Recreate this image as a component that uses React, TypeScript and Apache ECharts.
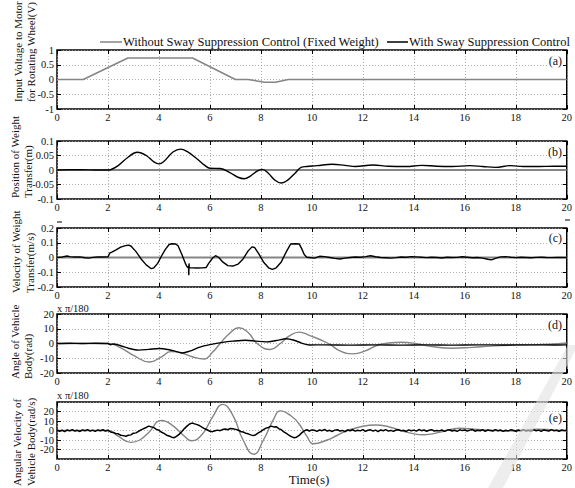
import React, { useEffect, useRef } from "react";
import * as echarts from "echarts";

const FONT = "Liberation Serif";

const xTicks = [0, 2, 4, 6, 8, 10, 12, 14, 16, 18, 20];
const panelNames = ["(a)", "(b)", "(c)", "(d)", "(e)"];
const yMins = [-1, -0.1, -0.2, -20, -30];
const yMaxs = [1, 0.1, 0.2, 20, 30];
const yIntervals = [0.5, 0.05, 0.1, 10, 10];
const legendNames = [
  "Without Sway Suppression Control (Fixed Weight)",
  "With Sway Suppression Control",
];
const yTitles = [
  ["Input Voltage to Motor", "for Rotating Wheel(V)"],
  ["Position of Weight", "Transfer(m)"],
  ["Velocity of Weight", "Transfer(m/s)"],
  ["Angle of Vehicle", "Body(rad)"],
  ["Angular Velocity of", "Vehicle Body(rad/s)"],
];

// (a) input voltage
const aWithout: number[][] = [
  [0, 0], [1.03, 0], [2.78, 0.73], [5.32, 0.73], [7.0, 0], [7.5, 0],
  [8.15, -0.09], [8.57, -0.09], [9.08, 0], [20, 0],
];

// (b) position of weight transfer
const bWithout: number[][] = [[0, 0], [20, 0]];
const bWith: number[][] = [
  [0, 0], [0.5, 0.001], [1, 0.001], [1.5, 0.0], [2.0, 0.0], [2.1, 0.001],
  [2.4, 0.015], [2.8, 0.045], [3.15, 0.061], [3.5, 0.05], [3.8, 0.028],
  [4.0, 0.021], [4.2, 0.03], [4.55, 0.062], [4.85, 0.072], [5.1, 0.064],
  [5.5, 0.038], [5.8, 0.016], [6.0, 0.006], [6.4, 0.005], [6.8, -0.01],
  [7.1, -0.025], [7.35, -0.03], [7.6, -0.02], [7.85, -0.004], [8.05, 0.002],
  [8.3, -0.012], [8.55, -0.035], [8.8, -0.045], [9.05, -0.035], [9.35, -0.01],
  [9.6, 0.01], [9.8, 0.012], [10.2, 0.015], [10.8, 0.02], [11.3, 0.016],
  [11.7, 0.012], [12.4, 0.017], [13.0, 0.013], [13.7, 0.012], [14.3, 0.016],
  [14.9, 0.013], [15.5, 0.012], [16.2, 0.015], [16.7, 0.012], [17.2, 0.009],
  [17.8, 0.015], [18.3, 0.012], [18.9, 0.012], [19.5, 0.013], [20, 0.013],
];

// (c) velocity of weight transfer
const cWithout: number[][] = [[0, 0], [20, 0]];
const cWith: number[][] = [
  [0, 0], [0.2, 0.003], [0.4, 0.01], [0.5, 0.006], [0.7, 0.003], [0.9, 0.004],
  [1.1, -0.002], [1.25, -0.004], [1.4, 0.001], [1.6, 0.003], [1.8, 0.003],
  [2.0, 0.004], [2.07, 0.03], [2.15, 0.036], [2.3, 0.05], [2.5, 0.07],
  [2.65, 0.079], [2.8, 0.084], [2.9, 0.078], [3.1, 0.04], [3.3, -0.01],
  [3.5, -0.05], [3.7, -0.076], [3.8, -0.07], [3.95, -0.04], [4.1, 0.01],
  [4.25, 0.055], [4.4, 0.088], [4.5, 0.093], [4.65, 0.092], [4.75, 0.08],
  [4.9, 0.02], [5.05, -0.045], [5.12, -0.068], [5.16, -0.06], [5.17, -0.12],
  [5.18, -0.04], [5.19, -0.07], [5.3, -0.07], [5.5, -0.071], [5.7, -0.07],
  [5.85, -0.068], [5.95, -0.04], [6.1, -0.005], [6.22, 0.012], [6.35, 0.0],
  [6.5, -0.03], [6.7, -0.055], [6.9, -0.058], [7.1, -0.045], [7.3, -0.01],
  [7.5, 0.045], [7.65, 0.072], [7.75, 0.068], [7.9, 0.03], [8.1, -0.03],
  [8.3, -0.07], [8.45, -0.081], [8.6, -0.07], [8.8, -0.03], [9.0, 0.04],
  [9.17, 0.092], [9.35, 0.093], [9.5, 0.092], [9.6, 0.06], [9.7, 0.02],
  [9.8, 0.002], [9.9, 0.0], [10.1, -0.004], [10.3, 0.008], [10.5, 0.006],
  [10.7, 0.0], [10.9, -0.006], [11.1, -0.01], [11.3, -0.004], [11.5, 0.0],
  [11.7, 0.003], [11.9, 0.002], [12.1, 0.006], [12.3, 0.012], [12.5, 0.005],
  [12.7, 0.0], [12.9, -0.002], [13.1, -0.004], [13.3, -0.001], [13.5, 0.003],
  [13.7, 0.002], [13.9, 0.006], [14.1, 0.004], [14.3, 0.002], [14.5, -0.001],
  [14.7, 0.002], [14.9, 0.0], [15.1, -0.003], [15.3, 0.002], [15.5, 0.0],
  [15.7, 0.001], [15.9, 0.005], [16.1, 0.002], [16.3, -0.002], [16.5, 0.0],
  [16.7, -0.004], [16.9, -0.012], [17.05, -0.016], [17.2, -0.006], [17.4, 0.004],
  [17.6, 0.006], [17.8, 0.002], [18.0, -0.001], [18.2, 0.002], [18.4, 0.0],
  [18.6, -0.002], [18.8, 0.001], [19.0, 0.002], [19.2, 0.0], [19.4, -0.001],
  [19.6, 0.001], [19.8, 0.0], [20, 0.0],
];

// (d) angle of vehicle body (x pi/180)
const dWithout: number[][] = [
  [0, 0], [1, 0], [2, 0], [2.5, -3], [3.0, -8], [3.63, -12.5], [4.1, -9],
  [4.47, -5.5], [4.9, -6.5], [5.3, -9], [5.77, -10.5], [6.1, -6], [6.4, 0],
  [6.75, 6.5], [7.14, 10.7], [7.5, 7.5], [7.85, 0], [8.37, -4.1], [8.76, 0],
  [9.1, 5], [9.5, 7.7], [9.9, 5.5], [10.65, 0], [11.1, -5], [11.62, -7],
  [12.1, -5], [12.6, -1], [13.0, 0.3], [13.5, 0.8], [14.0, 0.2], [14.7, -2],
  [15.5, -3.2], [16.3, -2.6], [17.0, -1.8], [17.8, -1.2], [18.6, -0.9],
  [19.3, -0.5], [20, 0.3],
];
const dWith: number[][] = [
  [0, 0], [0.5, 0.2], [1, 0], [1.5, 0.2], [2, 0], [2.1, -0.8], [2.2, -0.3],
  [2.5, -1.5], [2.8, -3.2], [3.2, -4.5], [3.6, -4.0], [4.0, -3.4], [4.4, -4.2],
  [4.7, -5.5], [4.93, -6.4], [5.2, -5.2], [5.6, -2.5], [6.0, -0.8], [6.5, 0.8],
  [6.9, 1.6], [7.4, 2.2], [7.8, 1.6], [8.2, 1.1], [8.6, 2.0], [9.0, 3.2],
  [9.3, 2.2], [9.6, 0.3], [9.9, -1.0], [10.5, -0.9], [11.5, -1.1], [12.5, -0.9],
  [13.5, -1.1], [14.5, -0.9], [15.5, -1.1], [16.5, -0.9], [17.5, -1.0],
  [18.5, -0.9], [19.5, -1.0], [20, -0.9],
];

// (e) angular velocity of vehicle body (x pi/180)
const eWithout: number[][] = [
  [0, 0], [1, 0], [2, 0], [2.4, -6], [2.9, -12.5], [3.25, -10], [3.6, -2],
  [4.1, 10.5], [4.5, 6], [5.0, -6], [5.28, -10.8], [5.7, -4], [6.1, 14],
  [6.5, 27.5], [6.9, 16], [7.3, -10], [7.72, -25], [8.1, -10], [8.5, 12],
  [8.76, 20.7], [9.2, 15], [9.5, 6.8], [9.8, -6], [10.06, -14], [10.6, -10],
  [11.0, -5], [11.4, 0], [12.0, 4.5], [12.5, 5.8], [13.0, 4], [13.5, 0],
  [14.0, -3.5], [14.4, -4.4], [15.0, -2], [15.8, 2.4], [16.5, 1], [17.2, 0],
  [18.0, -0.5], [18.8, 1.5], [19.5, 0.5], [20, -0.5],
];
const eWithStep = 0.1;
const eWithValues = [
  0.5, -0.8, 0.3, -1.2, 0.6, -0.4, 1.0, -0.6, 0.2, -1.0,
  0.7, -0.3, 0.9, -0.7, 0.4, -0.9, 0.6, -0.2, 0.8, -0.6,
  0.2, -1.5, -2.0, -3.2, -3.5, -5.0, -5.4, -6.0, -5.0, -4.6,
  -2.8, -2.5, -0.8, 0.6, 2.0, 3.2, 4.6, 3.8, 3.0, 1.2,
  0.2, -1.8, -3.0, -5.0, -5.8, -7.0, -7.6, -6.0, -3.8, -1.0,
  2.0, 4.6, 6.8, 7.8, 7.0, 6.2, 5.0, 3.2, 1.8, 0.5,
  -0.8, -1.2, -0.3, 0.4, -0.2, 1.0, 1.6, 0.8, 2.2, 1.8,
  1.2, 0.5, -1.0, -1.6, -2.8, -3.5, -4.6, -5.4, -4.4, -2.6,
  -1.0, 0.8, 2.5, 3.2, 4.6, 3.8, 4.0, 2.0, 0.8, -1.5,
  -3.0, -5.0, -6.5, -7.6, -7.0, -5.2, -2.5, -0.4, 0.8, -0.5,
  0.6,
  0.3, -0.9, 0.5, -0.2, 1.1, -0.6, 0.2, -1.0, 0.4, 0.9,
  -0.5, 0.1, -1.2, 0.6, -0.3, 0.8, -0.7, 0.3, -0.4, 1.0,
  -0.8, 0.2, 0.7, -0.5, 0.4, -1.1, 0.6, -0.2, 0.9, -0.6,
  0.1, -0.9, 0.5, 0.8, -0.4, 0.2, -1.0, 0.7, -0.3, 0.4,
  -0.7, 1.0, -0.2, 0.5, -0.8, 0.3, 0.9, -0.6, 0.1, -0.4,
  0.6, -1.0, 0.3, 0.8, -0.5, 0.2, -0.9, 0.7, -0.1, 0.5,
  -0.6, 0.4, 1.0, -0.7, 0.2, -0.3, 0.8, -0.9, 0.5, 0.1,
  -0.5, 0.9, -0.2, 0.6, -1.0, 0.3, -0.4, 0.7, 0.2, -0.8,
  0.5, -0.3, 1.0, -0.6, 0.1, -0.7, 0.8, -0.2, 0.4, -0.9,
  0.6, 0.0, -0.5, 0.9, -0.4, 0.3, -0.8, 0.5, -0.1, 0.2,
];

const GRAY = "#858585";
const BLACK = "#000000";

const gridBoxes = [
  { top: 50, height: 59 },
  { top: 141, height: 58 },
  { top: 228, height: 59 },
  { top: 314, height: 59 },
  { top: 402, height: 57 },
];
const titleBottoms = [102, 198, 293, 379, 486];
const titleX = [
  [18, 31],
  [15, 28],
  [16, 30],
  [15, 28],
  [17, 31],
];
const panelLabelY = [61, 152, 238, 325, 418];

export default function App() {
  const ref = useRef<HTMLDivElement>(null);
  useEffect(() => {
    if (!ref.current) return;
    const chart = echarts.init(ref.current, null, { renderer: "svg" });

    const eWith = eWithValues.map((v, i) => [Math.round(i * eWithStep * 10) / 10, v]);

    const grid = gridBoxes.map((g) => ({
      left: 57,
      right: 5,
      top: g.top,
      height: g.height,
      show: true,
      borderColor: "#000",
      borderWidth: 1.5,
      backgroundColor: "transparent",
      containLabel: false,
    }));

    const tick = { show: true, inside: true, length: 4, lineStyle: { color: "#000", width: 1 } };
    const label = { show: true, margin: 3, fontFamily: FONT, fontSize: 10.5, color: "#111" };
    const split = { show: true, lineStyle: { color: "#9a9a9a", type: [1, 2], width: 0.8 } };

    const bottomX = gridBoxes.map((_, i) => ({
      type: "value",
      gridIndex: i,
      min: xTicks[0],
      max: xTicks[xTicks.length - 1],
      interval: 2,
      position: "bottom",
      axisLine: { show: false, onZero: false },
      axisTick: tick,
      axisLabel: label,
      splitLine: split,
    }));
    const topX = gridBoxes.map((_, i) => ({
      type: "value",
      gridIndex: i,
      min: xTicks[0],
      max: xTicks[xTicks.length - 1],
      interval: 2,
      position: "top",
      axisLine: { show: false, onZero: false },
      axisTick: tick,
      axisLabel: { show: false },
      splitLine: { show: false },
    }));
    const leftY = gridBoxes.map((_, i) => ({
      type: "value",
      gridIndex: i,
      min: yMins[i],
      max: yMaxs[i],
      interval: yIntervals[i],
      position: "left",
      axisLine: { show: false, onZero: false },
      axisTick: tick,
      axisLabel: label,
      splitLine: split,
    }));
    const rightY = gridBoxes.map((_, i) => ({
      type: "value",
      gridIndex: i,
      min: yMins[i],
      max: yMaxs[i],
      interval: yIntervals[i],
      position: "right",
      axisLine: { show: false, onZero: false },
      axisTick: tick,
      axisLabel: { show: false },
      splitLine: { show: false },
    }));

    const line = (data: number[][], idx: number, color: string, smooth: number | boolean, width = 1.4) => ({
      type: "line",
      xAxisIndex: idx,
      yAxisIndex: idx,
      data,
      symbol: "none",
      smooth,
      lineStyle: { color, width },
      silent: true,
    });

    const series = [
      line(aWithout, 0, GRAY, false, 1.5),
      line(bWithout, 1, GRAY, false, 1.8),
      line(bWith, 1, BLACK, 0.4, 1.4),
      line(cWithout, 2, GRAY, false, 1.8),
      line(cWith, 2, BLACK, false, 1.4),
      line(dWithout, 3, GRAY, 0.5, 1.4),
      line(dWith, 3, BLACK, 0.3, 1.4),
      line(eWithout, 4, GRAY, 0.5, 1.4),
      line(eWith, 4, BLACK, false, 1.5),
    ];

    const graphic: any[] = [];
    graphic.push(
      { type: "line", shape: { x1: 100, y1: 42, x2: 122, y2: 42 }, style: { stroke: GRAY, lineWidth: 1.5 } },
      { type: "text", x: 123, y: 42, style: { text: legendNames[0], fontFamily: FONT, fontSize: 12.5, fill: "#111", verticalAlign: "middle", align: "left" } },
      { type: "line", shape: { x1: 387, y1: 42, x2: 408, y2: 42 }, style: { stroke: BLACK, lineWidth: 1.5 } },
      { type: "text", x: 409, y: 42, style: { text: legendNames[1], fontFamily: FONT, fontSize: 12.5, fill: "#111", verticalAlign: "middle", align: "left" } },
    );
    yTitles.forEach((lines, i) => {
      lines.forEach((t, j) => {
        graphic.push({
          type: "text",
          x: titleX[i][j],
          y: titleBottoms[i],
          rotation: Math.PI / 2,
          style: { text: t, fontFamily: FONT, fontSize: 11, fill: "#111", align: "left", verticalAlign: "middle" },
        });
      });
    });
    panelNames.forEach((n, i) => {
      graphic.push({
        type: "text",
        x: 563,
        y: panelLabelY[i],
        z: 10,
        style: { text: n, fontFamily: FONT, fontSize: 12, fill: "#111", align: "right", verticalAlign: "middle", backgroundColor: "#fff", padding: [0, 1] },
      });
    });
    graphic.push(
      { type: "text", x: 57, y: 308, style: { text: "x π/180", fontFamily: FONT, fontSize: 10.5, fill: "#111", align: "left", verticalAlign: "middle" } },
      { type: "text", x: 57, y: 395, style: { text: "x π/180", fontFamily: FONT, fontSize: 10.5, fill: "#111", align: "left", verticalAlign: "middle" } },
    );
    graphic.push({ type: "text", x: 309, y: 479, style: { text: "Time(s)", fontFamily: FONT, fontSize: 13, fill: "#111", align: "center", verticalAlign: "middle" } });
    graphic.push(
      { type: "line", shape: { x1: 57, y1: 222, x2: 62, y2: 222 }, style: { stroke: "#000", lineWidth: 1 } },
      { type: "line", shape: { x1: 565, y1: 220, x2: 570, y2: 220 }, style: { stroke: "#000", lineWidth: 1 } },
    );
    graphic.push({
      type: "polygon",
      z: 100,
      shape: { points: [[568, 345], [578, 345], [503, 488], [488, 488]] },
      style: { fill: "rgba(225,225,225,0.6)" },
      silent: true,
    });

    chart.setOption({
      animation: false,
      backgroundColor: "#fff",
      textStyle: { fontFamily: FONT },
      grid,
      xAxis: [...bottomX, ...topX],
      yAxis: [...leftY, ...rightY],
      series,
      graphic,
    });
    return () => chart.dispose();
  }, []);

  return (
    <div
      ref={ref}
      style={{ position: "fixed", left: 0, top: 0, width: 575, height: 488, background: "#fff" }}
    />
  );
}
